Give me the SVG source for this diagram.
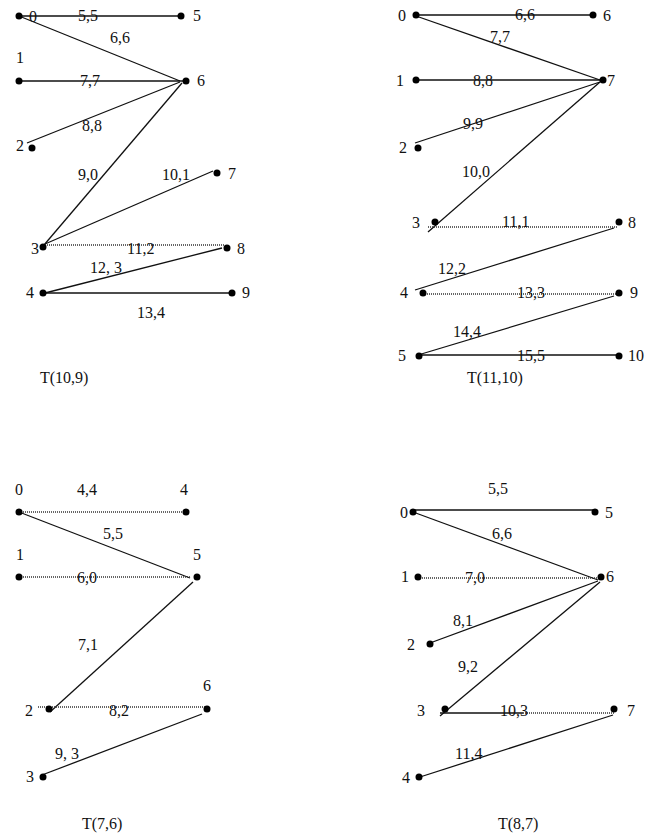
<svg xmlns="http://www.w3.org/2000/svg" width="647" height="835" viewBox="0 0 647 835" font-family="'Liberation Serif', 'Times New Roman', 'DejaVu Serif', serif">
<style>
text{font-family:'Liberation Serif','Times New Roman','DejaVu Serif',serif;font-size:16px;fill:#111}
.d{fill:#000}
.s{stroke:#111;stroke-width:1.3;fill:none}
.t{stroke:#333;stroke-width:1.3;stroke-dasharray:1 1;fill:none}
</style>
<rect width="647" height="835" fill="#fff"/>
<g id="connectors">
<line class="s" x1="19" y1="16" x2="181" y2="16"/>
<line class="s" x1="19" y1="16" x2="180" y2="81"/>
<line class="s" x1="19" y1="81" x2="183" y2="81"/>
<line class="s" x1="27" y1="143" x2="180" y2="82"/>
<line class="s" x1="182" y1="83" x2="44" y2="245"/>
<line class="s" x1="45" y1="244" x2="213" y2="171"/>
<line class="t" x1="45" y1="245" x2="225" y2="245"/>
<line class="s" x1="222" y1="248" x2="45" y2="293"/>
<line class="s" x1="45" y1="293" x2="230" y2="293"/>
<text x="78" y="21">5,5</text>
<text x="110" y="43">6,6</text>
<text x="80" y="86">7,7</text>
<text x="82" y="131">8,8</text>
<text x="78" y="180">9,0</text>
<text x="162" y="180">10,1</text>
<text x="127" y="254">11,2</text>
<text x="90" y="273">12, 3</text>
<text x="137" y="318">13,4</text>
<line class="s" x1="416" y1="15" x2="591" y2="15"/>
<line class="s" x1="416" y1="16" x2="600" y2="80"/>
<line class="s" x1="416" y1="80" x2="600" y2="80"/>
<line class="s" x1="415" y1="143" x2="600" y2="82"/>
<line class="s" x1="600" y1="82" x2="428" y2="232"/>
<line class="t" x1="428" y1="227" x2="617" y2="227"/>
<line class="s" x1="614" y1="228" x2="415" y2="290"/>
<line class="t" x1="423" y1="294" x2="617" y2="294"/>
<line class="s" x1="614" y1="296" x2="418" y2="355"/>
<line class="s" x1="419" y1="355" x2="617" y2="355"/>
<text x="515" y="20">6,6</text>
<text x="490" y="42">7,7</text>
<text x="473" y="86">8,8</text>
<text x="463" y="129">9,9</text>
<text x="462" y="177">10,0</text>
<text x="502" y="227">11,1</text>
<text x="438" y="274">12,2</text>
<text x="517" y="298">13,3</text>
<text x="453" y="337">14,4</text>
<text x="517" y="361">15,5</text>
<line class="t" x1="19" y1="512" x2="184" y2="512"/>
<line class="s" x1="19" y1="512" x2="190" y2="578"/>
<line class="t" x1="19" y1="577" x2="190" y2="577"/>
<line class="s" x1="193" y1="582" x2="50" y2="712"/>
<line class="t" x1="38" y1="707" x2="207" y2="707"/>
<line class="s" x1="202" y1="714" x2="42" y2="775"/>
<text x="77" y="495">4,4</text>
<text x="103" y="539">5,5</text>
<text x="77" y="583">6,0</text>
<text x="78" y="650">7,1</text>
<text x="109" y="716">8,2</text>
<text x="55" y="759">9, 3</text>
<line class="s" x1="413" y1="510" x2="593" y2="510"/>
<line class="s" x1="413" y1="512" x2="598" y2="580"/>
<line class="t" x1="418" y1="578" x2="598" y2="578"/>
<line class="s" x1="598" y1="581" x2="430" y2="643"/>
<line class="s" x1="600" y1="582" x2="440" y2="716"/>
<line class="s" x1="440" y1="713" x2="523" y2="713"/>
<line class="t" x1="523" y1="713" x2="615" y2="713"/>
<line class="s" x1="613" y1="715" x2="420" y2="777"/>
<text x="488" y="494">5,5</text>
<text x="492" y="539">6,6</text>
<text x="465" y="583">7,0</text>
<text x="453" y="626">8,1</text>
<text x="458" y="672">9,2</text>
<text x="500" y="716">10,3</text>
<text x="455" y="759">11,4</text>
</g>
<g id="a0"><circle class="d" cx="19" cy="16" r="3.5"/><text x="29" y="22">0</text></g>
<g id="a5"><circle class="d" cx="181" cy="16" r="3.5"/><text x="193" y="21">5</text></g>
<g id="a1"><circle class="d" cx="19" cy="81" r="3.5"/><text x="16" y="63">1</text></g>
<g id="a6"><circle class="d" cx="186" cy="81" r="3.5"/><text x="197" y="86">6</text></g>
<g id="a2"><circle class="d" cx="32" cy="148" r="3.5"/><text x="16" y="151">2</text></g>
<g id="a7"><circle class="d" cx="217" cy="173" r="3.5"/><text x="228" y="179">7</text></g>
<g id="a3"><circle class="d" cx="43" cy="247" r="3.5"/><text x="31" y="254">3</text></g>
<g id="a8"><circle class="d" cx="227" cy="248" r="3.5"/><text x="237" y="254">8</text></g>
<g id="a4"><circle class="d" cx="43" cy="293" r="3.5"/><text x="26" y="298">4</text></g>
<g id="a9"><circle class="d" cx="232" cy="293" r="3.5"/><text x="242" y="298">9</text></g>
<text id="titleA" x="40" y="383">T(10,9)</text>
<g id="b0"><circle class="d" cx="416" cy="15" r="3.5"/><text x="398" y="21">0</text></g>
<g id="b6"><circle class="d" cx="593" cy="15" r="3.5"/><text x="603" y="21">6</text></g>
<g id="b1"><circle class="d" cx="416" cy="80" r="3.5"/><text x="396" y="86">1</text></g>
<g id="b7"><circle class="d" cx="603" cy="80" r="3.5"/><text x="607" y="86">7</text></g>
<g id="b2"><circle class="d" cx="418" cy="148" r="3.5"/><text x="399" y="153">2</text></g>
<g id="b3"><circle class="d" cx="435" cy="222" r="3.5"/><text x="412" y="228">3</text></g>
<g id="b8"><circle class="d" cx="619" cy="222" r="3.5"/><text x="628" y="228">8</text></g>
<g id="b4"><circle class="d" cx="423" cy="293" r="3.5"/><text x="400" y="298">4</text></g>
<g id="b9"><circle class="d" cx="619" cy="293" r="3.5"/><text x="630" y="298">9</text></g>
<g id="b5"><circle class="d" cx="419" cy="356" r="3.5"/><text x="398" y="361">5</text></g>
<g id="b10"><circle class="d" cx="619" cy="356" r="3.5"/><text x="628" y="361">10</text></g>
<text id="titleB" x="467" y="383">T(11,10)</text>
<g id="c0"><circle class="d" cx="19" cy="512" r="3.5"/><text x="15" y="495">0</text></g>
<g id="c4"><circle class="d" cx="186" cy="512" r="3.5"/><text x="180" y="495">4</text></g>
<g id="c1"><circle class="d" cx="19" cy="577" r="3.5"/><text x="16" y="560">1</text></g>
<g id="c5"><circle class="d" cx="197" cy="577" r="3.5"/><text x="193" y="560">5</text></g>
<g id="c2"><circle class="d" cx="49" cy="709" r="3.5"/><text x="25" y="716">2</text></g>
<g id="c6"><circle class="d" cx="207" cy="709" r="3.5"/><text x="203" y="691">6</text></g>
<g id="c3"><circle class="d" cx="43" cy="777" r="3.5"/><text x="26" y="782">3</text></g>
<text id="titleC" x="82" y="829">T(7,6)</text>
<g id="d0"><circle class="d" cx="413" cy="512" r="3.5"/><text x="400" y="518">0</text></g>
<g id="d5"><circle class="d" cx="595" cy="512" r="3.5"/><text x="605" y="518">5</text></g>
<g id="d1"><circle class="d" cx="418" cy="577" r="3.5"/><text x="401" y="582">1</text></g>
<g id="d6"><circle class="d" cx="601" cy="577" r="3.5"/><text x="606" y="582">6</text></g>
<g id="d2"><circle class="d" cx="430" cy="644" r="3.5"/><text x="407" y="650">2</text></g>
<g id="d3"><circle class="d" cx="445" cy="709" r="3.5"/><text x="417" y="716">3</text></g>
<g id="d7"><circle class="d" cx="614" cy="709" r="3.5"/><text x="627" y="716">7</text></g>
<g id="d4"><circle class="d" cx="419" cy="777" r="3.5"/><text x="402" y="783">4</text></g>
<text id="titleD" x="498" y="829">T(8,7)</text>
</svg>
